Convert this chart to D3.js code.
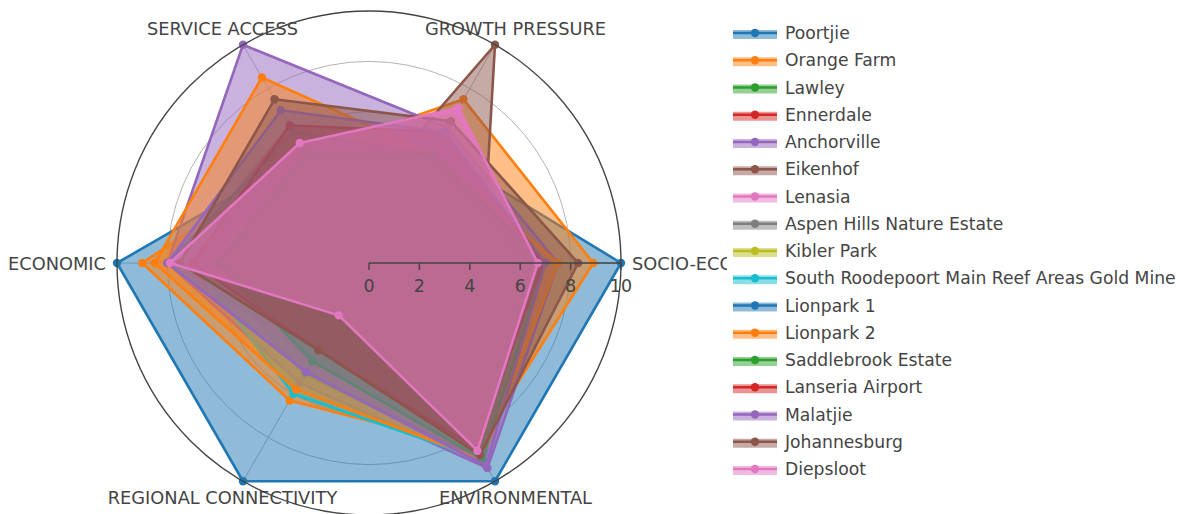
<!DOCTYPE html>
<html>
<head>
<meta charset="utf-8">
<script src="https://cdn.jsdelivr.net/npm/d3@7"></script>
<style>
  html, body { margin: 0; padding: 0; background: #fff; }
  svg text { font-family: "DejaVu Sans", Verdana, sans-serif; fill: #444; }
</style>
</head>
<body>
<svg id="chart" width="1186" height="514"></svg>
<script>
// Axes of the radar, counter-clockwise from 3 o'clock
const categories = ['SOCIO-ECONOMIC', 'GROWTH PRESSURE', 'SERVICE ACCESS', 'ECONOMIC', 'REGIONAL CONNECTIVITY', 'ENVIRONMENTAL'];
const radialTicks = [0, 2, 4, 6, 8, 10];

// Scores per area, same order as categories
const poortjie        = [10, 5.2, 5, 10, 10, 10];
const orangeFarm      = [8.9, 7.5, 5, 9, 6.3, 8.5];
const lawley          = [6.5, 5, 5, 6.5, 5.1, 9];
const ennerdale       = [7, 6, 6.3, 7.5, 4.5, 9];
const anchorville     = [7.5, 6.2, 10, 8, 5.5, 9.4];
const eikenhof        = [4.5, 10, 2, 2.3, 3, 7.5];
const lenasia         = [6.5, 7, 5.5, 8, 2.5, 8.5];
const aspenHills      = [6.5, 5, 4, 4.3, 3.5, 8.8];
const kiblerPark      = [7, 5, 5, 6, 4, 9];
const southRoodepoort = [7, 5, 5, 7, 6, 9];
const lionpark1       = [6.4, 5, 6, 8, 5, 9.1];
const lionpark2       = [7.5, 5, 8.5, 8.5, 5.8, 9];
const saddlebrook     = [7, 5, 5, 6, 4.5, 9];
const lanseria        = [6.9, 6, 6.3, 7, 4, 8.5];
const malatjie        = [7, 6, 7, 8, 5, 9.3];
const johannesburg    = [8.3, 6.5, 7.5, 7.5, 4, 8.8];
const diepsloot       = [6.7, 7.1, 5.5, 7.9, 2.4, 8.6];

const areaNames = ['Poortjie', 'Orange Farm', 'Lawley', 'Ennerdale', 'Anchorville', 'Eikenhof', 'Lenasia',
  'Aspen Hills Nature Estate', 'Kibler Park', 'South Roodepoort Main Reef Areas Gold Mine', 'Lionpark 1',
  'Lionpark  2', 'Saddlebrook Estate', 'Lanseria Airport', 'Malatjie', 'Johannesburg', 'Diepsloot'];
const areaValues = [poortjie, orangeFarm, lawley, ennerdale, anchorville, eikenhof, lenasia, aspenHills,
  kiblerPark, southRoodepoort, lionpark1, lionpark2, saddlebrook, lanseria, malatjie, johannesburg, diepsloot];

const colorway = ['#1f77b4', '#ff7f0e', '#2ca02c', '#d62728', '#9467bd', '#8c564b', '#e377c2', '#7f7f7f', '#bcbd22', '#17becf'];

const series = areaNames.map((name, i) => ({
  name,
  values: areaValues[i],
  color: colorway[i % colorway.length]
}));

const svg = d3.select('#chart');
const cx = 369, cy = 263, R = 252;

const r = d3.scaleLinear().domain([0, 10]).range([0, R]);
// theta in radians, counter-clockwise from the positive x axis
const theta = d3.scaleLinear().domain([0, categories.length]).range([0, 2 * Math.PI]);
const px = (i, v) => cx + r(v) * Math.cos(theta(i));
const py = (i, v) => cy - r(v) * Math.sin(theta(i));

const polar = svg.append('g').attr('class', 'polar');

// Grid circles and spokes
polar.append('g').attr('class', 'grid')
  .selectAll('circle')
  .data(radialTicks.filter(t => t > 0 && t < 10))
  .join('circle')
  .attr('cx', cx).attr('cy', cy)
  .attr('r', d => r(d))
  .attr('fill', 'none')
  .attr('stroke', '#b4b4b4')
  .attr('stroke-width', 1);

polar.append('g').attr('class', 'spokes')
  .selectAll('line')
  .data(categories)
  .join('line')
  .attr('x1', cx).attr('y1', cy)
  .attr('x2', (d, i) => px(i, 10))
  .attr('y2', (d, i) => py(i, 10))
  .attr('stroke', '#b4b4b4')
  .attr('stroke-width', 1);

// Traces
const radial = d3.lineRadial()
  .angle((d, i) => Math.PI / 2 - theta(i))
  .radius(d => r(d))
  .curve(d3.curveLinearClosed);

const traces = polar.append('g').attr('class', 'traces')
  .attr('transform', `translate(${cx},${cy})`)
  .selectAll('g')
  .data(series)
  .join('g');

traces.append('path')
  .attr('d', d => radial(d.values))
  .attr('fill', d => d.color)
  .attr('fill-opacity', 0.5)
  .attr('stroke', d => d.color)
  .attr('stroke-width', 2.6)
  .attr('stroke-linejoin', 'round');

traces.selectAll('circle')
  .data(d => d.values.map((v, i) => ({ v, i, color: d.color })))
  .join('circle')
  .attr('cx', d => px(d.i, d.v) - cx)
  .attr('cy', d => py(d.i, d.v) - cy)
  .attr('r', 4.2)
  .attr('fill', d => d.color);

// Angular axis line
polar.append('circle')
  .attr('cx', cx).attr('cy', cy).attr('r', R)
  .attr('fill', 'none')
  .attr('stroke', '#444')
  .attr('stroke-width', 1.4);

// Radial axis drawn above the traces
const radialAxis = polar.append('g').attr('class', 'radial-axis');
radialAxis.append('line')
  .attr('x1', cx).attr('y1', cy)
  .attr('x2', cx + R).attr('y2', cy)
  .attr('stroke', '#444')
  .attr('stroke-width', 1.4);
radialAxis.selectAll('.tick')
  .data(radialTicks)
  .join('line')
  .attr('class', 'tick')
  .attr('x1', d => cx + r(d)).attr('x2', d => cx + r(d))
  .attr('y1', cy).attr('y2', cy + 7)
  .attr('stroke', '#444')
  .attr('stroke-width', 1.4);
radialAxis.selectAll('text')
  .data(radialTicks)
  .join('text')
  .attr('x', d => cx + r(d))
  .attr('y', cy + 23)
  .attr('text-anchor', 'middle')
  .attr('dominant-baseline', 'central')
  .style('font-size', '17.5px')
  .text(d => d);

// Category labels
polar.append('g').attr('class', 'angular-labels')
  .selectAll('text')
  .data(categories)
  .join('text')
  .each(function(d, i) {
    const c = Math.cos(theta(i)), s = Math.sin(theta(i));
    const horizontal = Math.abs(c) > 0.9;
    const rl = horizontal ? R + 11 : R + 19;
    d3.select(this)
      .attr('x', cx + rl * c + (horizontal ? 0 : c * 22))
      .attr('y', cy - rl * s)
      .attr('text-anchor', horizontal ? (c > 0 ? 'start' : 'end') : 'middle');
  })
  .attr('dominant-baseline', 'central')
  .style('font-size', '17.8px')
  .text(d => d);

// Legend
const legend = svg.append('g').attr('class', 'legend');
legend.append('rect')
  .attr('x', 727).attr('y', 16)
  .attr('width', 1186 - 727).attr('height', 470)
  .attr('fill', '#fff');

const rowY = d3.scaleLinear().domain([0, series.length - 1]).range([33, 469]);

const items = legend.selectAll('.item')
  .data(series)
  .join('g')
  .attr('class', 'item')
  .attr('transform', (d, i) => `translate(0,${rowY(i)})`);

items.append('rect')
  .attr('x', 733).attr('y', -3)
  .attr('width', 44).attr('height', 9)
  .attr('fill', d => d.color)
  .attr('fill-opacity', 0.5);
items.append('line')
  .attr('x1', 733).attr('x2', 777)
  .attr('y1', 0).attr('y2', 0)
  .attr('stroke', d => d.color)
  .attr('stroke-width', 2.6);
items.append('circle')
  .attr('cx', 755).attr('cy', 0).attr('r', 4.2)
  .attr('fill', d => d.color);
items.append('text')
  .attr('x', 785).attr('y', 0)
  .attr('dominant-baseline', 'central')
  .style('font-size', '17.2px')
  .text(d => d.name);
</script>
</body>
</html>
